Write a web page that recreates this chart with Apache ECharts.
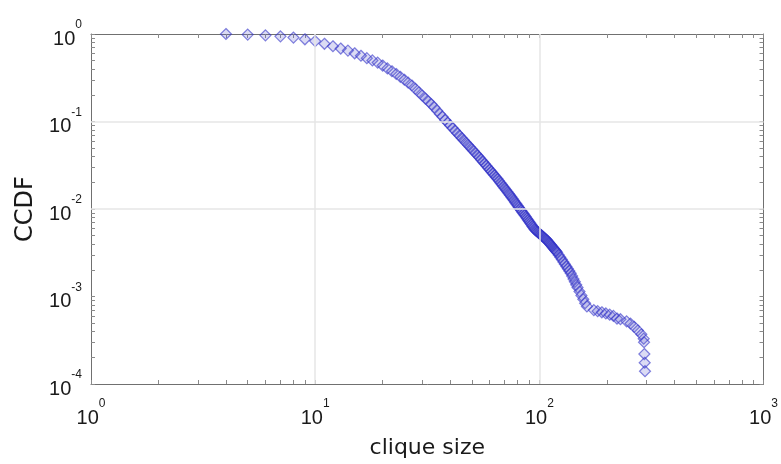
<!DOCTYPE html>
<html>
<head>
<meta charset="utf-8">
<script src="https://cdn.jsdelivr.net/npm/echarts@6/dist/echarts.min.js"></script>
<style>
  html, body { margin: 0; padding: 0; background: #fff; }
  #chart { width: 781px; height: 464px; }
</style>
</head>
<body>
<div id="chart"></div>
<script>
// Clique sizes and the fraction of cliques at least that large (CCDF)
const cliqueSize = [
  4, 5, 6, 7, 8, 9, 10, 11, 12, 13, 14, 15, 16, 17, 18, 19, 20,
  21, 22, 23, 24, 25, 26, 27, 28, 29, 30, 31, 32, 33, 34, 35, 36, 37, 38, 39, 40,
  41, 42, 43, 44, 45, 46, 47, 48, 49, 50, 51, 52, 53, 54, 55, 56, 57, 58, 59, 60,
  61, 62, 63, 64, 65, 66, 67, 68, 69, 70, 71, 72, 73, 74, 75, 76, 77, 78, 79, 80,
  81, 82, 83, 84, 85, 86, 87, 88, 89, 90, 91, 92, 93, 94, 95, 96, 97, 98, 99, 100,
  101, 102, 103, 104, 105, 106, 107, 108, 109, 110, 111, 112, 113, 114, 115, 116, 117, 118, 119, 120,
  122, 124, 126, 128, 130, 132, 134, 136, 138, 140, 142, 144, 146,
  148, 151, 154, 157, 160, 163,
  175, 182, 190, 198, 206, 214, 222,
  230, 245, 255, 265, 275, 285, 292, 293, 294, 295, 296
];
const ccdf = [
  1.0, 0.985, 0.965, 0.94, 0.91, 0.87, 0.830, 0.773, 0.724, 0.682, 0.646, 0.602, 0.564, 0.530, 0.499, 0.471, 0.436,
  0.404, 0.375, 0.349, 0.324, 0.300, 0.278, 0.258, 0.236, 0.216, 0.199, 0.183, 0.170, 0.157, 0.145, 0.133, 0.122, 0.113, 0.104, 0.0968, 0.0902,
  0.0841, 0.0787, 0.0736, 0.0690, 0.0648, 0.0609, 0.0574, 0.0541, 0.0510, 0.0482, 0.0456, 0.0432, 0.0409, 0.0387, 0.0366, 0.0347, 0.0329, 0.0312, 0.0296, 0.0281,
  0.0268, 0.0255, 0.0243, 0.0231, 0.0221, 0.0210, 0.0200, 0.0190, 0.0181, 0.0173, 0.0165, 0.0157, 0.0150, 0.0144, 0.0137, 0.0131, 0.0125, 0.0119, 0.0114, 0.0109,
  0.0104, 0.0100, 0.00959, 0.00920, 0.00883, 0.00848, 0.00813, 0.00780, 0.00748, 0.00718, 0.00690, 0.00663, 0.00637, 0.00613, 0.00590, 0.00575, 0.00562, 0.00550, 0.00537, 0.00525,
  0.00513, 0.00501, 0.00490, 0.00480, 0.00469, 0.00459, 0.00450, 0.00441, 0.00429, 0.00417, 0.00406, 0.00394, 0.00384, 0.00373, 0.00363, 0.00353, 0.00344, 0.00335, 0.00327, 0.00318,
  0.00299, 0.00281, 0.00264, 0.00248, 0.00234, 0.00220, 0.00208, 0.00196, 0.00184, 0.00171, 0.00158, 0.00147, 0.00136,
  0.00127, 0.00114, 0.00103, 0.00093, 0.00084, 0.00077,
  0.00070, 0.00068, 0.00066, 0.00064, 0.00062, 0.00060, 0.00056,
  0.00055, 0.00052, 0.00049, 0.00045, 0.00041, 0.00037, 0.00033, 0.00030, 0.00022, 0.000175, 0.00014
];

// Axis ranges (decades)
const xRange = [1, 1000];
const yRange = [1e-4, 1];
const xTitle = 'clique size';
const yTitle = 'CCDF';

// Tick positions 1..9 within each decade (log-style minor ticks)
function logTicks(lo, hi) {
  const out = [];
  for (let d = lo; d < hi * 0.999; d *= 10) {
    for (let k = 1; k < 10; k++) out.push(d * k);
  }
  out.push(hi);
  return out;
}
// Interior decades, used for the grid lines
function innerDecades(lo, hi) {
  const out = [];
  for (let d = lo * 10; d < hi * 0.999; d *= 10) out.push(d);
  return out;
}
const xTickVals = logTicks(xRange[0], xRange[1]);
const yTickVals = logTicks(yRange[0], yRange[1]);
const gridLines = innerDecades(xRange[0], xRange[1]).map(v => ({ xAxis: v }))
  .concat(innerDecades(yRange[0], yRange[1]).map(v => ({ yAxis: v })));

const FONT = 'Liberation Sans, Arial, sans-serif';
const TITLE_FONT = 'DejaVu Sans, Verdana, sans-serif';
const INK = '#1a1a1a';
const powLabel = function (v) {
  const e = Math.round(Math.log10(v));
  return '{b|10}{s|' + e + '}';
};
// base "10" fills a tall line; the exponent hugs its top edge
const labelRich = {
  b: { fontSize: 20, fontFamily: FONT, color: INK, lineHeight: 30, verticalAlign: 'bottom' },
  s: { fontSize: 12, fontFamily: FONT, color: INK, lineHeight: 12, verticalAlign: 'top' }
};

const tickOnly = {
  show: true,
  inside: true,
  length: 4,
  lineStyle: { color: '#8a8a8a', width: 1 }
};
const frameLine = { show: true, lineStyle: { color: '#707070', width: 1 } };

const chart = echarts.init(document.getElementById('chart'), null, { renderer: 'canvas' });
chart.setOption({
  animation: false,
  backgroundColor: '#ffffff',
  grid: { left: 91, right: 14, top: 34, bottom: 76 },
  xAxis: [
    {
      type: 'log', logBase: 10, min: xRange[0], max: xRange[1], position: 'bottom',
      name: xTitle, nameLocation: 'middle', nameGap: 53,
      nameTextStyle: { fontSize: 22, fontFamily: TITLE_FONT, color: INK },
      axisLine: frameLine,
      axisTick: Object.assign({}, tickOnly, { customValues: xTickVals }),
      axisLabel: { formatter: powLabel, rich: labelRich, margin: 14 },
      splitLine: { show: false }
    },
    {
      type: 'log', logBase: 10, min: xRange[0], max: xRange[1], position: 'top',
      axisLine: frameLine,
      axisTick: Object.assign({}, tickOnly, { customValues: xTickVals }),
      axisLabel: { show: false },
      splitLine: { show: false }
    }
  ],
  yAxis: [
    {
      type: 'log', logBase: 10, min: yRange[0], max: yRange[1], position: 'left',
      name: yTitle, nameLocation: 'middle', nameGap: 48,
      nameTextStyle: { fontSize: 24, fontFamily: TITLE_FONT, color: INK },
      axisLine: frameLine,
      axisTick: Object.assign({}, tickOnly, { customValues: yTickVals }),
      axisLabel: { formatter: powLabel, rich: labelRich, margin: 9 },
      splitLine: { show: false }
    },
    {
      type: 'log', logBase: 10, min: yRange[0], max: yRange[1], position: 'right',
      axisLine: frameLine,
      axisTick: Object.assign({}, tickOnly, { customValues: yTickVals }),
      axisLabel: { show: false },
      splitLine: { show: false }
    }
  ],
  series: [
    {
      // decade grid lines, kept beneath the markers
      type: 'line',
      xAxisIndex: 0, yAxisIndex: 0,
      data: [],
      z: 1,
      silent: true,
      markLine: {
        silent: true,
        symbol: ['none', 'none'],
        label: { show: false },
        lineStyle: { color: '#e6e6e6', width: 1.5, type: 'solid' },
        data: gridLines
      }
    },
    {
      type: 'scatter',
      xAxisIndex: 0, yAxisIndex: 0,
      z: 3,
      symbol: 'diamond',
      symbolSize: 11,
      itemStyle: {
        color: 'rgba(95,95,205,0.28)',
        borderColor: 'rgba(50,50,200,0.75)',
        borderWidth: 1.2
      },
      data: cliqueSize.map((s, i) => [s, ccdf[i]])
    }
  ]
});
</script>
</body>
</html>
